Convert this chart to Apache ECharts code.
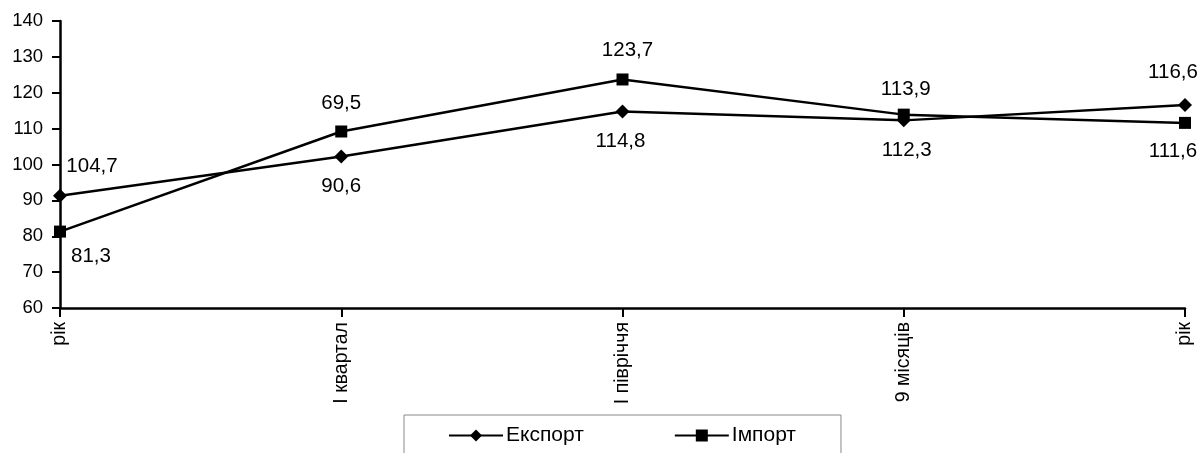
<!DOCTYPE html>
<html>
<head>
<meta charset="utf-8">
<script src="https://cdn.jsdelivr.net/npm/echarts@6/dist/echarts.min.js"></script>
<style>html,body{margin:0;padding:0;background:#fff}#c{width:1202px;height:453px}</style>
</head>
<body>
<div id="c"></div>
<script>
var categories = ['рік', 'I квартал', 'I півріччя', '9 місяців', 'рік'];
var exportValues = [91.3, 102.2, 114.8, 112.3, 116.6];
var importValues = [81.3, 109.2, 123.7, 113.9, 111.6];
var exportLabels = ['104,7', '90,6', '114,8', '112,3', '116,6'];
var importLabels = ['81,3', '69,5', '123,7', '113,9', '111,6'];
var yTicks = { min: 60, max: 140, interval: 10 };

// label placement (style, not data): [position, dx, dy]
var exportPlace = [['top', 32, 0], ['bottom', 0, 0], ['bottom', -2, 0], ['bottom', 3, 0], ['top', -12, -3]];
var importPlace = [['bottom', 31, -4], ['top', 0, 0], ['top', 5, -1], ['top', 2, 3], ['bottom', -12, 0]];

var FONT = 'Liberation Sans';

function buildData(values, labels, place) {
  return values.map(function (v, i) {
    return {
      value: v,
      label: {
        position: place[i][0],
        offset: [place[i][1], place[i][2]],
        formatter: labels[i]
      }
    };
  });
}

var chart = echarts.init(document.getElementById('c'), null, { renderer: 'canvas' });
chart.setOption({
  animation: false,
  backgroundColor: '#fff',
  textStyle: { fontFamily: FONT, color: '#000' },
  grid: { left: 60, right: 17, top: 21, bottom: 145, containLabel: false },
  xAxis: {
    type: 'category',
    data: categories,
    boundaryGap: false,
    axisLine: { lineStyle: { color: '#000', width: 2.5 } },
    axisTick: { length: 9, lineStyle: { color: '#000', width: 2 } },
    axisLabel: { rotate: 90, margin: 14, fontSize: 19.5, color: '#000', fontFamily: FONT, interval: 0 },
    splitLine: { show: false }
  },
  yAxis: {
    type: 'value',
    min: yTicks.min,
    max: yTicks.max,
    interval: yTicks.interval,
    axisLine: { show: true, lineStyle: { color: '#000', width: 2.5 } },
    axisTick: { show: true, length: 8, lineStyle: { color: '#000', width: 2 } },
    axisLabel: { margin: 17, fontSize: 18.5, color: '#000', fontFamily: FONT },
    splitLine: { show: false }
  },
  legend: {
    left: 404,
    top: 415,
    padding: [10, 45, 40, 44],
    itemWidth: 54,
    itemHeight: 15,
    itemGap: 90,
    borderColor: '#888',
    borderWidth: 1,
    textStyle: { fontSize: 21, color: '#000', fontFamily: FONT, padding: [0, 0, 0, -2] },
    data: ['Експорт', 'Імпорт']
  },
  series: [
    {
      name: 'Експорт',
      type: 'line',
      data: buildData(exportValues, exportLabels, exportPlace),
      symbol: 'diamond',
      symbolSize: 14,
      itemStyle: { color: '#000' },
      lineStyle: { color: '#000', width: 2.5 },
      label: { show: true, distance: 12, fontSize: 20.5, color: '#000', fontFamily: FONT }
    },
    {
      name: 'Імпорт',
      type: 'line',
      data: buildData(importValues, importLabels, importPlace),
      symbol: 'rect',
      symbolSize: 12,
      itemStyle: { color: '#000' },
      lineStyle: { color: '#000', width: 2.5 },
      label: { show: true, distance: 12, fontSize: 20.5, color: '#000', fontFamily: FONT }
    }
  ]
});
</script>
</body>
</html>
